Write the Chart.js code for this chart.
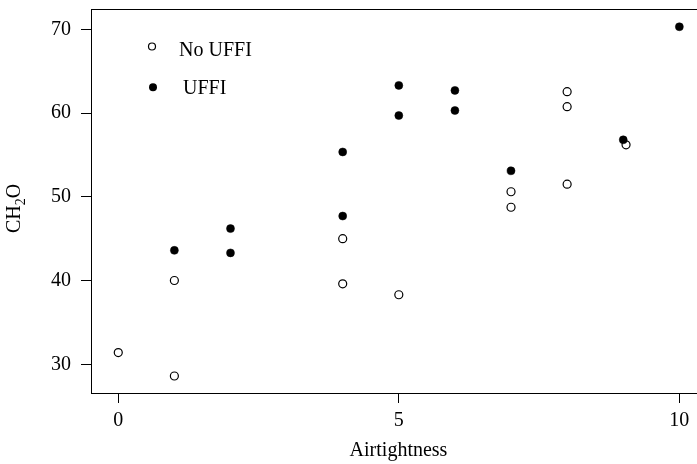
<!DOCTYPE html>
<html>
<head>
<meta charset="utf-8">
<script src="https://cdn.jsdelivr.net/npm/chart.js@4"></script>
<style>
  html, body { margin: 0; padding: 0; background: #fff; overflow: hidden; }
  #wrap { width: 712px; height: 464px; }
</style>
</head>
<body>
<div id="wrap"><canvas id="plot"></canvas></div>
<script>
// formaldehyde vs airtightness, houses with and without foam insulation
const noUffiX = [0, 1, 1, 4, 4, 5, 7, 7, 8, 8, 8, 9.05];
const noUffiY = [31.4, 28.6, 40.0, 45.0, 39.6, 38.3, 50.6, 48.75, 62.55, 60.76, 51.5, 56.2];
const uffiX = [1, 2, 2, 4, 4, 5, 5, 6, 6, 7, 9, 10];
const uffiY = [43.6, 46.2, 43.3, 55.35, 47.7, 63.3, 59.7, 62.7, 60.3, 53.1, 56.8, 70.3];

const xTicks = [0, 5, 10];
const yTicks = [30, 40, 50, 60, 70];
const seriesNames = ['No UFFI', 'UFFI'];

const FONT = 'Liberation Serif, Times New Roman, serif';

function toPoints(xs, ys) {
    return xs.map((x, i) => ({ x: x, y: ys[i] }));
}

// box around the plot, inset legend and the CH2O label with its subscript
const framePlugin = {
    id: 'frame',
    afterDraw(chart) {
        const ctx = chart.ctx;
        const a = chart.chartArea;
        ctx.save();
        ctx.strokeStyle = '#000';
        ctx.lineWidth = 1;
        ctx.strokeRect(Math.round(a.left) + 0.5, Math.round(a.top) + 0.5,
            Math.round(a.right - a.left), Math.round(a.bottom - a.top));

        // legend
        ctx.fillStyle = '#000';
        ctx.font = '20px ' + FONT;
        ctx.textBaseline = 'alphabetic';
        ctx.textAlign = 'left';
        ctx.beginPath();
        ctx.arc(a.left + 61, a.top + 37.5, 3.5, 0, Math.PI * 2);
        ctx.lineWidth = 1.2;
        ctx.stroke();
        ctx.fillText(seriesNames[0], a.left + 88, a.top + 47.3);

        ctx.beginPath();
        ctx.arc(a.left + 62, a.top + 78.3, 4, 0, Math.PI * 2);
        ctx.fill();
        ctx.fillText(seriesNames[1], a.left + 92, a.top + 85.3);

        // y axis title
        ctx.translate(20, 208.5);
        ctx.rotate(-Math.PI / 2);
        ctx.font = '20px ' + FONT;
        const wCH = ctx.measureText('CH').width;
        const wO = ctx.measureText('O').width;
        ctx.font = '14px ' + FONT;
        const w2 = ctx.measureText('2').width;
        let x0 = -(wCH + w2 + wO) / 2;
        ctx.font = '20px ' + FONT;
        ctx.fillText('CH', x0, 0);
        ctx.font = '14px ' + FONT;
        ctx.fillText('2', x0 + wCH, 5);
        ctx.font = '20px ' + FONT;
        ctx.fillText('O', x0 + wCH + w2, 0);
        ctx.restore();
    }
};

const tickGrid = {
    display: true,
    drawOnChartArea: false,
    drawTicks: true,
    tickLength: 10,
    color: '#000',
    lineWidth: 1
};

const chart = new Chart(document.getElementById('plot'), {
    type: 'scatter',
    data: {
        datasets: [
            {
                label: seriesNames[0],
                data: toPoints(noUffiX, noUffiY),
                pointRadius: 4,
                pointBorderWidth: 1.2,
                pointBorderColor: '#000',
                pointBackgroundColor: 'rgba(0,0,0,0)',
                order: 0
            },
            {
                label: seriesNames[1],
                data: toPoints(uffiX, uffiY),
                pointRadius: 4,
                pointBorderWidth: 0.5,
                pointBorderColor: '#000',
                pointBackgroundColor: '#000',
                order: 1
            }
        ]
    },
    options: {
        responsive: true,
        maintainAspectRatio: false,
        animation: false,
        devicePixelRatio: 1,
        layout: { padding: { top: 9, right: 6, left: 0, bottom: 0 } },
        plugins: {
            legend: { display: false },
            tooltip: { enabled: false }
        },
        scales: {
            x: {
                type: 'linear',
                min: -0.486,
                max: 10.475,
                afterBuildTicks: s => { s.ticks = xTicks.map(v => ({ value: v })); },
                afterFit: s => {
                    s.height = 71;
                    s.paddingLeft = 0;
                    s.paddingRight = 0;
                },
                grid: tickGrid,
                border: { display: false },
                ticks: {
                    color: '#000',
                    padding: 6,
                    font: { family: FONT, size: 20 },
                    maxRotation: 0
                },
                title: {
                    display: true,
                    text: 'Airtightness',
                    color: '#000',
                    font: { family: FONT, size: 20 },
                    padding: { top: 0, bottom: 1.5 }
                }
            },
            y: {
                type: 'linear',
                min: 26.57,
                max: 72.42,
                afterBuildTicks: s => { s.ticks = yTicks.map(v => ({ value: v })); },
                afterFit: s => {
                    s.width = 91;
                    s.paddingTop = 0;
                    s.paddingBottom = 0;
                },
                grid: tickGrid,
                border: { display: false },
                ticks: {
                    color: '#000',
                    padding: 10,
                    font: { family: FONT, size: 20 }
                }
            }
        }
    },
    plugins: [framePlugin]
});
</script>
</body>
</html>
